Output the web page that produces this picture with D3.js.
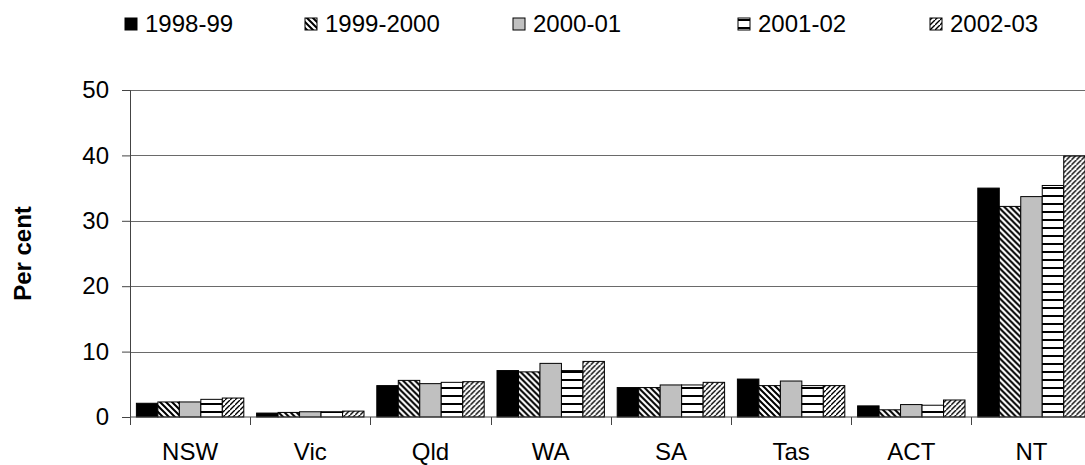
<!DOCTYPE html>
<html>
<head>
<meta charset="utf-8">
<script src="https://cdn.jsdelivr.net/npm/d3@7/dist/d3.min.js"></script>
<style>
  html, body { margin: 0; padding: 0; background: #fff; }
  svg { display: block; font-family: "Liberation Sans", Arial, sans-serif; }
</style>
</head>
<body>
<svg id="chart" width="1085" height="465"></svg>
<script>
// Jurisdictions along the x axis
const categories = ["NSW", "Vic", "Qld", "WA", "SA", "Tas", "ACT", "NT"];
// Financial years shown as grouped bars
const years = ["1998-99", "1999-2000", "2000-01", "2001-02", "2002-03"];
// Per cent values, one array per year, in category order
const v1998 = [2.1, 0.6, 4.8, 7.1, 4.5, 5.8, 1.7, 35.0];
const v1999 = [2.3, 0.7, 5.6, 6.9, 4.5, 4.8, 1.1, 32.2];
const v2000 = [2.3, 0.8, 5.1, 8.2, 4.9, 5.5, 1.9, 33.7];
const v2001 = [2.7, 0.8, 5.3, 7.1, 4.9, 4.8, 1.8, 35.4];
const v2002 = [2.9, 0.9, 5.4, 8.5, 5.3, 4.8, 2.6, 39.9];
const yTicks = [0, 10, 20, 30, 40, 50];
const yLabel = "Per cent";

const seriesValues = [v1998, v1999, v2000, v2001, v2002];

const svg = d3.select("#chart");
const plot = { left: 130, right: 1091.6, top: 90, bottom: 417 };

// Fill patterns for each year
const defs = svg.append("defs");
function pattern(id, size, draw) {
  const p = defs.append("pattern")
    .attr("id", id)
    .attr("patternUnits", "userSpaceOnUse")
    .attr("width", size).attr("height", size);
  p.append("rect").attr("width", size).attr("height", size).attr("fill", "#fff");
  draw(p, size);
}
pattern("pDown", 6, (p, s) => {
  p.append("path")
    .attr("d", `M${-s},0 L${s},${2 * s} M0,0 L${s},${s} M0,${-s} L${2 * s},${s}`)
    .attr("stroke", "#000").attr("stroke-width", 2);
});
pattern("pHoriz", 8, (p, s) => {
  p.append("rect").attr("x", 0).attr("y", 3).attr("width", s).attr("height", 2).attr("fill", "#000");
});
pattern("pUp", 5, (p, s) => {
  p.append("path")
    .attr("d", `M0,${s} L${s},0 M${-s},${s} L0,0 M${s},${2 * s} L${2 * s},${s}`)
    .attr("stroke", "#000").attr("stroke-width", 1.4);
});

const fills = ["#000", "url(#pDown)", "#c0c0c0", "url(#pHoriz)", "url(#pUp)"];

const x0 = d3.scaleBand().domain(categories).range([plot.left, plot.right]);
const x1 = d3.scaleBand().domain(years).range([6.4, x0.bandwidth() - 6.4]);
const y = d3.scaleLinear().domain([0, 50]).range([plot.bottom, plot.top]);

// Horizontal gridlines
svg.append("g")
  .selectAll("line")
  .data(yTicks.filter(t => t > 0))
  .join("line")
  .attr("x1", plot.left).attr("x2", plot.right)
  .attr("y1", d => Math.round(y(d)) + 0.5).attr("y2", d => Math.round(y(d)) + 0.5)
  .attr("stroke", "#6a6a6a").attr("stroke-width", 1.2);

// Bars
const groups = svg.append("g")
  .selectAll("g")
  .data(categories)
  .join("g")
  .attr("transform", c => `translate(${x0(c)},0)`);

groups.selectAll("rect")
  .data((c, i) => years.map((yr, k) => ({ yr, k, v: seriesValues[k][i] })))
  .join("rect")
  .attr("x", d => x1(d.yr))
  .attr("width", x1.bandwidth())
  .attr("y", d => y(d.v))
  .attr("height", d => y(0) - y(d.v))
  .attr("fill", d => fills[d.k])
  .attr("stroke", "#000")
  .attr("stroke-width", 1);

// Y axis
const yAxis = svg.append("g")
  .attr("transform", `translate(${plot.left},0)`)
  .call(d3.axisLeft(y).tickValues(yTicks).tickSize(8).tickPadding(13));
yAxis.select(".domain").attr("stroke", "#444");
yAxis.selectAll(".tick line").attr("stroke", "#444");
yAxis.selectAll("text").attr("font-size", 24).attr("fill", "#000")
  .attr("font-family", "Liberation Sans, Arial, sans-serif");

// X axis with ticks at the category boundaries
const xAxisG = svg.append("g").attr("transform", `translate(0,${plot.bottom})`);
xAxisG.append("line")
  .attr("x1", plot.left).attr("x2", plot.right)
  .attr("stroke", "#444");
xAxisG.selectAll("line.tk")
  .data(categories)
  .join("line")
  .attr("class", "tk")
  .attr("x1", c => Math.round(x0(c)) + 0.5).attr("x2", c => Math.round(x0(c)) + 0.5)
  .attr("y1", 0).attr("y2", 8)
  .attr("stroke", "#444");
xAxisG.selectAll("text")
  .data(categories)
  .join("text")
  .attr("x", c => x0(c) + x0.bandwidth() / 2)
  .attr("y", 43)
  .attr("text-anchor", "middle")
  .attr("font-size", 24)
  .text(c => c);

// Y axis title
svg.append("text")
  .attr("transform", `translate(31,${(plot.top + plot.bottom) / 2}) rotate(-90)`)
  .attr("text-anchor", "middle")
  .attr("font-size", 24)
  .attr("font-weight", "bold")
  .text(yLabel);

// Legend
const legendX = [145, 325, 533, 758, 950];
const legend = svg.append("g")
  .selectAll("g")
  .data(years)
  .join("g")
  .attr("transform", (d, i) => `translate(${legendX[i]},0)`);
legend.append("rect")
  .attr("x", -20).attr("y", 18).attr("width", 12).attr("height", 12)
  .attr("fill", (d, i) => fills[i])
  .attr("stroke", "#000").attr("stroke-width", 1);
legend.append("text")
  .attr("x", 0).attr("y", 32)
  .attr("font-size", 24)
  .text(d => d);
</script>
</body>
</html>
